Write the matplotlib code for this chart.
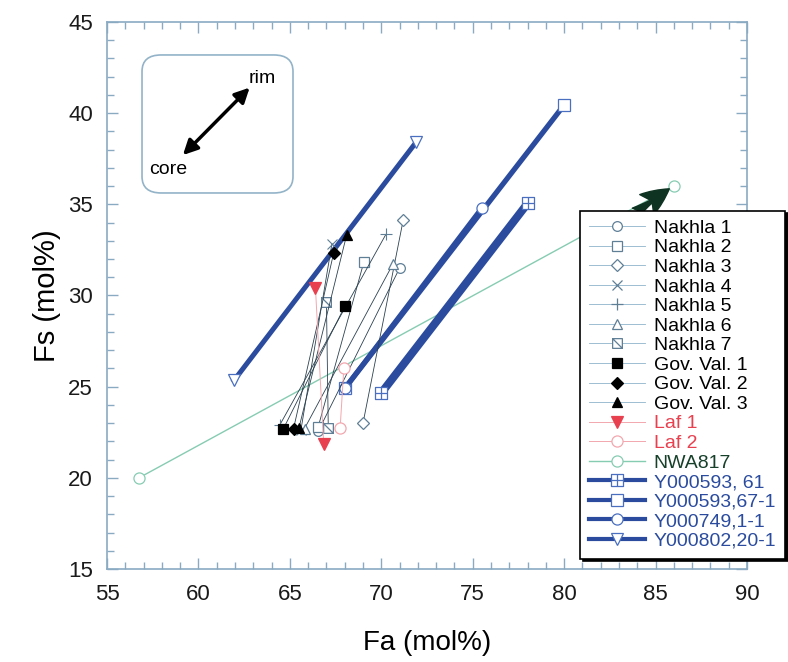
import numpy as np
import matplotlib
matplotlib.use('Agg')
import matplotlib.pyplot as plt
from matplotlib.path import Path
from matplotlib.lines import Line2D
from matplotlib.patches import FancyBboxPatch

plt.rcParams['font.family'] = ['Liberation Sans', 'DejaVu Sans']

# core -> rim compositions, one entry per grain
labels = ['Nakhla 1', 'Nakhla 2', 'Nakhla 3', 'Nakhla 4', 'Nakhla 5',
          'Nakhla 6', 'Nakhla 7', 'Gov. Val. 1', 'Gov. Val. 2', 'Gov. Val. 3',
          'Laf 1', 'Laf 2', 'NWA817',
          'Y000593, 61', 'Y000593,67-1', 'Y000749,1-1', 'Y000802,20-1']
fa_core = [66.55, 66.55, 69.0, 65.6, 64.45, 65.8, 67.1, 64.65, 65.2, 65.5,
           66.85, 67.75, 56.75, 70.0, 68.0, 68.0, 61.95]
fa_rim = [71.0, 69.05, 71.2, 67.3, 70.25, 70.65, 67.0, 68.0, 67.4, 68.1,
          66.4, 67.95, 86.0, 78.0, 80.0, 75.5, 71.9]
fs_core = [22.55, 22.8, 23.0, 22.6, 22.9, 22.7, 22.75, 22.7, 22.7, 22.75,
           21.85, 22.75, 20.0, 24.65, 24.9, 24.9, 25.35]
fs_rim = [31.5, 31.85, 34.15, 32.85, 33.35, 31.75, 29.65, 29.4, 32.35, 33.3,
          30.4, 26.0, 36.0, 35.05, 40.45, 34.8, 38.4]

# custom markers
sq = [(-1, -1), (1, -1), (1, 1), (-1, 1), (-1, -1)]
sq_codes = [Path.MOVETO] + [Path.LINETO] * 3 + [Path.CLOSEPOLY]
sq_diag = Path(sq + [(-1, 1), (1, -1)], sq_codes + [Path.MOVETO, Path.LINETO])
sq_plus = Path(sq + [(-1, 0), (1, 0), (0, -1), (0, 1)],
               sq_codes + [Path.MOVETO, Path.LINETO, Path.MOVETO, Path.LINETO])

dark = '#2b4150'
edge = '#5f7f97'
blue = '#2a4b9e'
red = '#e8404f'
pink = '#f2a7ae'
teal = '#86ccb2'

styles = [
    dict(marker='o', ms=7, mfc='white', mec=edge, color=dark, lw=0.6),
    dict(marker='s', ms=7, mfc='white', mec=edge, color=dark, lw=0.6),
    dict(marker='D', ms=6, mfc='white', mec=edge, color=dark, lw=0.6),
    dict(marker='x', ms=7, mec=edge, color=dark, lw=0.6, mew=0.8),
    dict(marker='+', ms=8, mec=edge, color=dark, lw=0.6, mew=0.8),
    dict(marker='^', ms=7, mfc='white', mec=edge, color=dark, lw=0.6),
    dict(marker=sq_diag, ms=7, mfc='white', mec=edge, color=dark, lw=0.6),
    dict(marker='s', ms=7, mfc='black', mec='black', color=dark, lw=0.6),
    dict(marker='D', ms=6, mfc='black', mec='black', color=dark, lw=0.6),
    dict(marker='^', ms=7, mfc='black', mec='black', color=dark, lw=0.6),
    dict(marker='v', ms=8, mfc=red, mec=red, color=pink, lw=0.7),
    dict(marker='o', ms=8, mfc='white', mec=pink, color=pink, lw=0.7),
    dict(marker='o', ms=8, mfc='white', mec=teal, color=teal, lw=1.0),
    dict(marker=sq_plus, ms=8, mfc='white', mec='#4a6fc0', color=blue, lw=5.8),
    dict(marker='s', ms=8, mfc='white', mec='#4a6fc0', color=blue, lw=3.8),
    dict(marker='o', ms=8, mfc='white', mec='#4a6fc0', color=blue, lw=3.6),
    dict(marker='v', ms=8, mfc='white', mec='#4a6fc0', color=blue, lw=3.6),
]
text_colors = ['black'] * 10 + [red, red, '#17402a'] + [blue] * 4

fig = plt.figure(figsize=(7.88, 6.62), dpi=100)
ax = fig.add_axes([0.1358, 0.1405, 0.8122, 0.8263])

n = len(labels)
handles = []
for i in range(n):
    st = dict(styles[i])
    z = 2 if i >= 13 else 3
    if i == 12:
        z = 1
    ax.plot([fa_core[i], fa_rim[i]], [fs_core[i], fs_rim[i]],
            zorder=z, mew=st.pop('mew', 0.9), **st)
    st = dict(styles[i])
    st.pop('mew', None)
    if i < 10:
        st['color'] = '#8fb3ca'
    if i >= 13:
        st['lw'] = 3.0
    handles.append(Line2D([], [], mew=0.9, **st))

ax.set_xlim(55, 90)
ax.set_ylim(15, 45)
ax.set_xticks(np.arange(55, 91, 5))
ax.set_yticks(np.arange(15, 46, 5))
ax.set_xticks(np.arange(55, 91, 1), minor=True)
ax.set_yticks(np.arange(15, 46, 1), minor=True)

axis_col = '#8aaac2'
for sp in ax.spines.values():
    sp.set_color(axis_col)
    sp.set_linewidth(1.2)
ax.tick_params(which='both', direction='in', top=True, right=True,
               color=axis_col, width=1.0, labelsize=16, labelcolor='#1a1a1a')
ax.tick_params(which='major', length=8)
ax.tick_params(which='minor', length=5)
ax.tick_params(axis='y', pad=10)
ax.tick_params(axis='x', pad=11)

ax.set_xlabel('Fa (mol%)', fontsize=20, labelpad=18)
ax.set_ylabel('Fs (mol%)', fontsize=21, labelpad=5)

# core / rim key box
box = FancyBboxPatch((0.0547, 0.6874), 0.2359, 0.2523,
                     boxstyle='round,pad=0,rounding_size=0.03',
                     transform=ax.transAxes, fc='white', ec='#93b3c8',
                     lw=1.2, zorder=4)
ax.add_patch(box)
ax.annotate('', xy=(59.15, 37.7), xytext=(62.8, 41.4),
            arrowprops=dict(arrowstyle='<|-|>', color='black', lw=2.5,
                            mutation_scale=22, shrinkA=0, shrinkB=0),
            zorder=5)
ax.text(63.5, 41.9, 'rim', fontsize=14, ha='center', va='center', zorder=5)
ax.text(58.35, 36.9, 'core', fontsize=14, ha='center', va='center', zorder=5)

# arrow pointing at NWA817 rim
ax.annotate('', xy=(85.75, 35.85), xytext=(83.9, 34.55),
            arrowprops=dict(arrowstyle='fancy,head_length=0.9,head_width=0.8,tail_width=0.35',
                            color='#0f3322', shrinkA=0, shrinkB=0,
                            mutation_scale=22),
            zorder=6, annotation_clip=False)

leg = fig.legend(handles, labels, loc='upper left',
                 bbox_to_anchor=(0.736, 0.682), fontsize=14,
                 handlelength=2.9, handletextpad=0.45, labelspacing=0.1,
                 borderpad=0.45, borderaxespad=0, frameon=True,
                 fancybox=False, edgecolor='black', framealpha=1,
                 shadow=dict(color='black', alpha=1))
leg.get_frame().set_linewidth(1.2)
for t, c in zip(leg.get_texts(), text_colors):
    t.set_color(c)
leg.set_zorder(10)

fig.savefig('out.png', dpi=100)
